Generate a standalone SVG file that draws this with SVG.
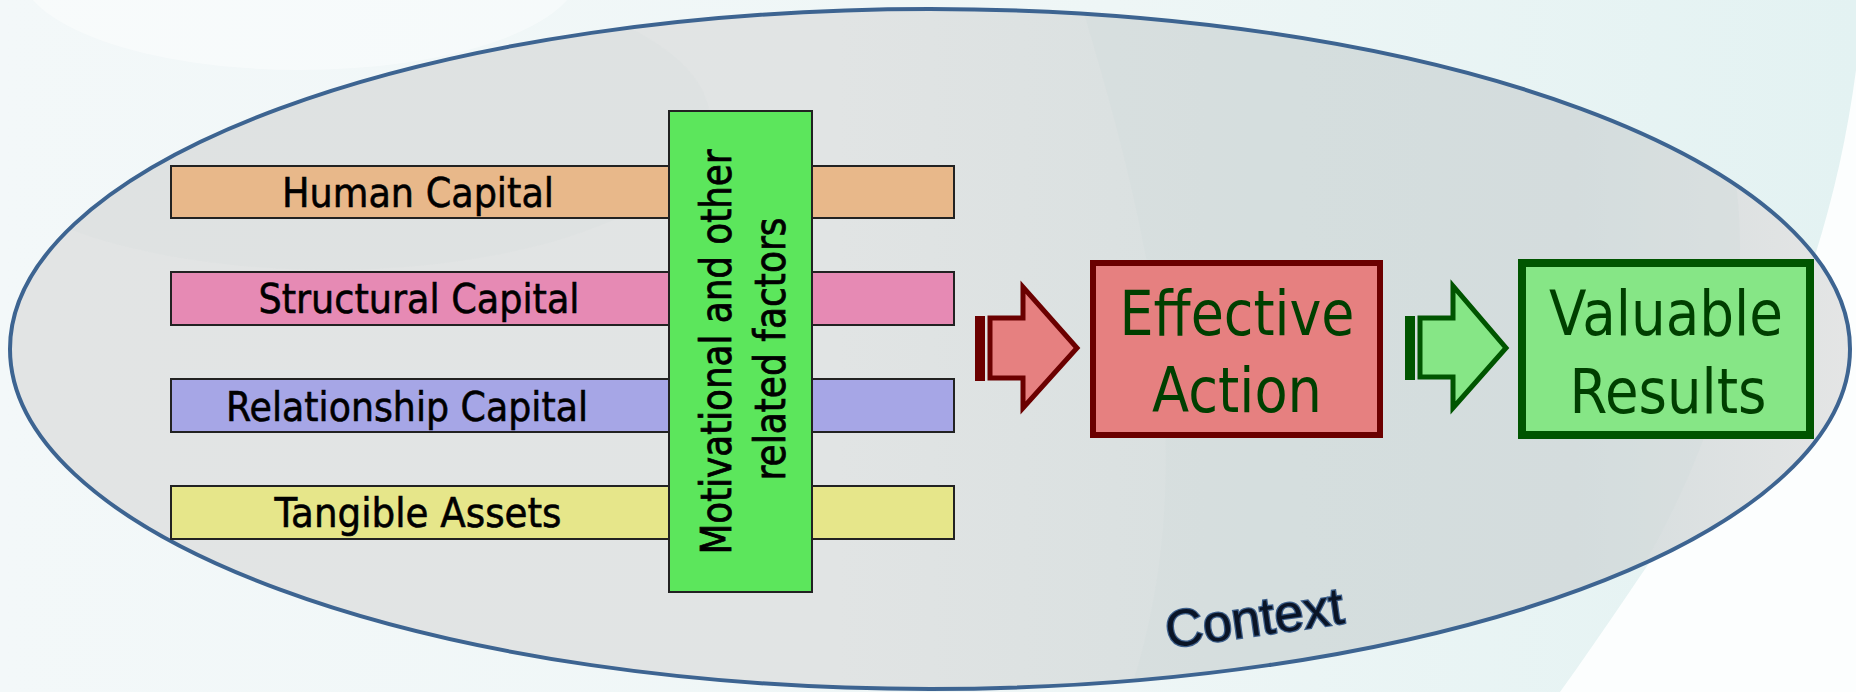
<svg xmlns="http://www.w3.org/2000/svg" width="1856" height="692" viewBox="0 0 1856 692">
  <defs>
    <linearGradient id="bg" x1="0" y1="0" x2="1" y2="0">
      <stop offset="0" stop-color="#F3F8F9"/>
      <stop offset="0.6" stop-color="#EEF6F6"/>
      <stop offset="1" stop-color="#E3F2F2"/>
    </linearGradient>
    <linearGradient id="inner" x1="0" y1="0" x2="1" y2="0">
      <stop offset="0" stop-color="#E2E4E4"/>
      <stop offset="0.45" stop-color="#E1E4E4"/>
      <stop offset="0.7" stop-color="#D7DFDF"/>
      <stop offset="0.85" stop-color="#D5DDDE"/>
      <stop offset="1" stop-color="#E4E5E5"/>
    </linearGradient>
    <clipPath id="ellClip">
      <ellipse cx="930" cy="349" rx="920" ry="340"/>
    </clipPath>
    <style>
      .bar { stroke: #222222; stroke-width: 2; }
      .barText { font-family: "DejaVu Sans", Verdana, sans-serif; font-size: 40px; fill: #000000; stroke: #000000; stroke-width: 0.6; text-anchor: middle; }
      .vText { font-family: "DejaVu Sans", Verdana, sans-serif; font-size: 42px; fill: #000000; stroke: #000000; stroke-width: 0.8; text-anchor: middle; }
      .boxText { font-family: "DejaVu Sans", Verdana, sans-serif; font-size: 62px; fill: #003F00; text-anchor: middle; }
    </style>
  </defs>

  <!-- background -->
  <rect x="0" y="0" width="1856" height="692" fill="url(#bg)"/>
  <ellipse cx="300" cy="-30" rx="280" ry="100" fill="#FFFFFF" opacity="0.4"/>
  <path d="M1856,70 C1835,230 1780,380 1700,490 C1650,560 1605,630 1560,692 L1856,692 Z" fill="#FCFEFE"/>

  <!-- context ellipse -->
  <g id="context">
    <ellipse cx="930" cy="349" rx="920" ry="340" fill="url(#inner)"/>
    <g clip-path="url(#ellClip)">
      <path d="M1080,0 C1140,200 1210,450 1130,692 L1560,692 C1730,460 1800,250 1680,0 Z" fill="#D2DCDD" opacity="0.4"/>
      <ellipse cx="330" cy="120" rx="380" ry="150" fill="#D9DFDF" opacity="0.35"/>
    </g>
    <ellipse cx="930" cy="349" rx="920" ry="340" fill="none" stroke="#3D6491" stroke-width="4"/>
    <text x="1168" y="648" transform="rotate(-8 1168 648)" font-family="'Liberation Sans', Arial, sans-serif" font-size="52" fill="#0A1426" stroke="#3C5E8A" stroke-width="2.5" paint-order="stroke">Context</text>
  </g>

  <!-- capital bars -->
  <g id="human-capital">
    <rect class="bar" x="171" y="166" width="783" height="52" fill="#E8B88A"/>
    <text class="barText" x="418" y="207" textLength="272" lengthAdjust="spacingAndGlyphs">Human Capital</text>
  </g>
  <g id="structural-capital">
    <rect class="bar" x="171" y="272" width="783" height="53" fill="#E68AB4"/>
    <text class="barText" x="419" y="313" textLength="321" lengthAdjust="spacingAndGlyphs">Structural Capital</text>
  </g>
  <g id="relationship-capital">
    <rect class="bar" x="171" y="379" width="783" height="53" fill="#A6A6E6"/>
    <text class="barText" x="407" y="421" textLength="362" lengthAdjust="spacingAndGlyphs">Relationship Capital</text>
  </g>
  <g id="tangible-assets">
    <rect class="bar" x="171" y="486" width="783" height="53" fill="#E6E68A"/>
    <text class="barText" x="418" y="527" textLength="287" lengthAdjust="spacingAndGlyphs">Tangible Assets</text>
  </g>

  <!-- motivational factors -->
  <g id="motivational-factors">
    <rect class="bar" x="669" y="111" width="143" height="481" fill="#5CE65C"/>
    <text class="vText" transform="translate(731 352) rotate(-90)" x="0" y="0" textLength="405" lengthAdjust="spacingAndGlyphs">Motivational and other</text>
    <text class="vText" transform="translate(785 349) rotate(-90)" x="0" y="0" textLength="263" lengthAdjust="spacingAndGlyphs">related factors</text>
  </g>

  <!-- connectors (block arrows) -->
  <g id="connectors">
    <g id="arrow-to-action">
      <rect x="975" y="316" width="10" height="65" fill="#6B0000"/>
      <polygon points="990,318 1023,318 1023,287 1077,348 1023,408 1023,378 990,378" fill="#E68080" stroke="#6B0000" stroke-width="5" stroke-linejoin="miter"/>
    </g>
    <g id="arrow-to-results">
      <rect x="1405" y="316" width="10" height="64" fill="#005500"/>
      <polygon points="1420,318 1453,318 1453,286 1506,348 1453,408 1453,377 1420,377" fill="#86E686" stroke="#005500" stroke-width="5" stroke-linejoin="miter"/>
    </g>
  </g>

  <!-- effective action -->
  <g id="effective-action">
    <rect x="1093" y="263" width="287" height="172" fill="#E68080" stroke="#6B0000" stroke-width="6"/>
    <text class="boxText" x="1237" y="335" textLength="235" lengthAdjust="spacingAndGlyphs">Effective</text>
    <text class="boxText" x="1237" y="412" textLength="170" lengthAdjust="spacingAndGlyphs">Action</text>
  </g>

  <!-- valuable results -->
  <g id="valuable-results">
    <rect x="1522" y="263" width="288" height="172" fill="#86E686" stroke="#005500" stroke-width="8"/>
    <text class="boxText" x="1666" y="335" textLength="234" lengthAdjust="spacingAndGlyphs">Valuable</text>
    <text class="boxText" x="1668" y="413" textLength="197" lengthAdjust="spacingAndGlyphs">Results</text>
  </g>
</svg>
